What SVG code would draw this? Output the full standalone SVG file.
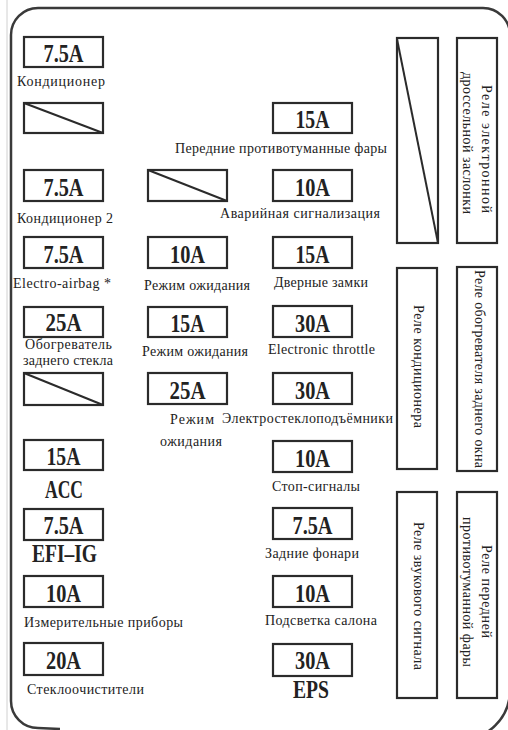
<svg xmlns="http://www.w3.org/2000/svg" width="508" height="730" viewBox="0 0 508 730">
<style>
.box{fill:#fff;stroke:#2b2b2b;stroke-width:2.2}
.dg{stroke:#2b2b2b;stroke-width:2}
.amp{font-family:"Liberation Serif","Times New Roman",serif;font-weight:bold;font-size:26px;text-anchor:middle;fill:#222}
.lbl{font-family:"Liberation Serif","Times New Roman",serif;font-size:14px;fill:#222}
.big{font-family:"Liberation Serif","Times New Roman",serif;font-weight:bold;font-size:26px;text-anchor:middle;fill:#222}
.frame{fill:none;stroke:#3a3a3a;stroke-width:2.5}
</style>
<rect width="508" height="730" fill="#fff"/>
<line x1="7" y1="0" x2="7" y2="730" stroke="#d0d0d0" stroke-width="1"/>
<path class="frame" d="M483 8 L38 8 A27 27 0 0 0 11 35 L11 701 A27 27 0 0 0 38 728 L60 729 M483 8 A27 27 0 0 1 510 35 L510 690 A50 50 0 0 1 460 740"/>
<g id="connectors"/>

<g id="fuse-a1"><rect class="box" x="24" y="37" width="79" height="30"/><text class="amp" x="63.5" y="62" textLength="40" lengthAdjust="spacingAndGlyphs">7.5A</text><text class="lbl" x="17" y="86" textLength="88">Кондиционер</text></g>
<g id="fuse-b1"><rect class="box" x="24" y="103" width="79" height="30"/><line class="dg" x1="24" y1="103" x2="103" y2="133"/></g>
<g id="fuse-b3"><rect class="box" x="273" y="103" width="79" height="30"/><text class="amp" x="312.5" y="128" textLength="34" lengthAdjust="spacingAndGlyphs">15A</text><text class="lbl" x="175" y="153" textLength="212">Передние противотуманные фары</text></g>

<g id="fuse-c1"><rect class="box" x="24" y="170" width="79" height="31"/><text class="amp" x="63.5" y="196" textLength="40" lengthAdjust="spacingAndGlyphs">7.5A</text><text class="lbl" x="17" y="223" textLength="96">Кондиционер 2</text></g>
<g id="fuse-c2"><rect class="box" x="148" y="170" width="79" height="31"/><line class="dg" x1="148" y1="170" x2="227" y2="201"/></g>
<g id="fuse-c3"><rect class="box" x="273" y="170" width="79" height="31"/><text class="amp" x="312.5" y="196" textLength="35" lengthAdjust="spacingAndGlyphs">10A</text><text class="lbl" x="220" y="218" textLength="160">Аварийная сигнализация</text></g>

<g id="fuse-d1"><rect class="box" x="24" y="237" width="79" height="31"/><text class="amp" x="63.5" y="263" textLength="40" lengthAdjust="spacingAndGlyphs">7.5A</text><text class="lbl" x="13" y="288" textLength="98">Electro-airbag *</text></g>
<g id="fuse-d2"><rect class="box" x="148" y="237" width="79" height="31"/><text class="amp" x="187.5" y="263" textLength="35" lengthAdjust="spacingAndGlyphs">10A</text><text class="lbl" x="144" y="290" textLength="106">Режим ожидания</text></g>
<g id="fuse-d3"><rect class="box" x="273" y="237" width="79" height="31"/><text class="amp" x="312.5" y="263" textLength="34" lengthAdjust="spacingAndGlyphs">15A</text><text class="lbl" x="274" y="287" textLength="94">Дверные замки</text></g>

<g id="fuse-e1"><rect class="box" x="24" y="307" width="79" height="30"/><text class="amp" x="63.5" y="331" textLength="36" lengthAdjust="spacingAndGlyphs">25A</text><text class="lbl" x="25" y="349" textLength="87">Обогреватель</text><text class="lbl" x="23" y="365" textLength="90">заднего стекла</text></g>
<g id="fuse-e2"><rect class="box" x="148" y="307" width="79" height="30"/><text class="amp" x="187.5" y="332" textLength="34" lengthAdjust="spacingAndGlyphs">15A</text><text class="lbl" x="142" y="356" textLength="106">Режим ожидания</text></g>
<g id="fuse-e3"><rect class="box" x="273" y="306" width="79" height="31"/><text class="amp" x="312.5" y="332" textLength="35" lengthAdjust="spacingAndGlyphs">30A</text><text class="lbl" x="268" y="354" textLength="107">Electronic throttle</text></g>

<g id="fuse-f1"><rect class="box" x="24" y="373" width="79" height="32"/><line class="dg" x1="24" y1="373" x2="103" y2="405"/></g>
<g id="fuse-f2"><rect class="box" x="148" y="373" width="79" height="31"/><text class="amp" x="187.5" y="399" textLength="36" lengthAdjust="spacingAndGlyphs">25A</text><text class="lbl" x="170" y="424" textLength="44">Режим</text><text class="lbl" x="160" y="446" textLength="62">ожидания</text></g>
<g id="fuse-f3"><rect class="box" x="273" y="373" width="79" height="31"/><text class="amp" x="312.5" y="399" textLength="35" lengthAdjust="spacingAndGlyphs">30A</text><text class="lbl" x="222" y="423" textLength="171">Электростеклоподъёмники</text></g>

<g id="fuse-g1"><rect class="box" x="24" y="440" width="79" height="30"/><text class="amp" x="63.5" y="465" textLength="34" lengthAdjust="spacingAndGlyphs">15A</text><text class="big" x="64" y="498" textLength="38" lengthAdjust="spacingAndGlyphs">ACC</text></g>
<g id="fuse-g3"><rect class="box" x="273" y="441" width="79" height="31"/><text class="amp" x="312.5" y="467" textLength="35" lengthAdjust="spacingAndGlyphs">10A</text><text class="lbl" x="272" y="491" textLength="88">Стоп-сигналы</text></g>

<g id="fuse-h1"><rect class="box" x="24" y="509" width="79" height="31"/><text class="amp" x="63.5" y="534" textLength="40" lengthAdjust="spacingAndGlyphs">7.5A</text><text class="big" x="64.5" y="562" textLength="65" lengthAdjust="spacingAndGlyphs">EFI–IG</text></g>
<g id="fuse-h3"><rect class="box" x="273" y="508" width="79" height="31"/><text class="amp" x="312.5" y="534" textLength="40" lengthAdjust="spacingAndGlyphs">7.5A</text><text class="lbl" x="265" y="558" textLength="94">Задние фонари</text></g>

<g id="fuse-i1"><rect class="box" x="24" y="576" width="79" height="31"/><text class="amp" x="63.5" y="602" textLength="35" lengthAdjust="spacingAndGlyphs">10A</text><text class="lbl" x="24" y="627" textLength="159">Измерительные приборы</text></g>
<g id="fuse-i3"><rect class="box" x="273" y="576" width="79" height="31"/><text class="amp" x="312.5" y="602" textLength="35" lengthAdjust="spacingAndGlyphs">10A</text><text class="lbl" x="265" y="625" textLength="112">Подсветка салона</text></g>

<g id="fuse-j1"><rect class="box" x="24" y="643" width="79" height="32"/><text class="amp" x="63.5" y="669" textLength="35" lengthAdjust="spacingAndGlyphs">20A</text><text class="lbl" x="27" y="694" textLength="117">Стеклоочистители</text></g>
<g id="fuse-j3"><rect class="box" x="273" y="644" width="79" height="32"/><text class="amp" x="312.5" y="669" textLength="35" lengthAdjust="spacingAndGlyphs">30A</text><text class="big" x="311" y="698" textLength="36" lengthAdjust="spacingAndGlyphs">EPS</text></g>

<g id="relay-1"><rect class="box" x="397" y="38" width="41" height="205"/><line class="dg" x1="397" y1="39" x2="438" y2="243"/></g>
<g id="relay-2"><rect class="box" x="457" y="38" width="40" height="205"/><text class="lbl" transform="translate(482,85) rotate(90)" textLength="128">Реле электронной</text><text class="lbl" transform="translate(463,72) rotate(90)" textLength="142">дроссельной заслонки</text></g>
<g id="relay-3"><rect class="box" x="397" y="268" width="40" height="201"/><text class="lbl" transform="translate(414,305) rotate(90)" textLength="123">Реле кондиционера</text></g>
<g id="relay-4"><rect class="box" x="457" y="267" width="40" height="204"/><text class="lbl" transform="translate(475,270) rotate(90)" textLength="198">Реле обогревателя заднего окна</text></g>
<g id="relay-5"><rect class="box" x="397" y="492" width="40" height="206"/><text class="lbl" transform="translate(414,522) rotate(90)" textLength="148">Реле звукового сигнала</text></g>
<g id="relay-6"><rect class="box" x="457" y="492" width="40" height="206"/><text class="lbl" transform="translate(482,545) rotate(90)" textLength="93">Реле передней</text><text class="lbl" transform="translate(463,517) rotate(90)" textLength="150">противотуманной фары</text></g>
</svg>
